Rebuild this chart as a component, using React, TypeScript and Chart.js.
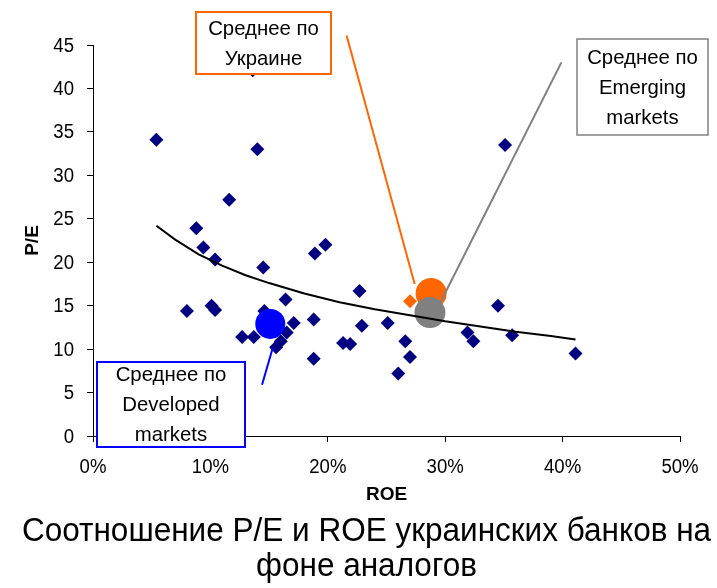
import React, { useEffect, useRef } from "react";
import { Chart, registerables } from "chart.js";

Chart.register(...registerables);

// ---- Data (ROE in %, P/E) ----
const peerRoe = [5.4, 13.6, 14.0, 11.6, 8.8, 9.4, 10.4, 14.5, 8.0, 10.1, 10.4, 14.6, 12.7, 13.7, 15.6, 16.0, 16.5, 17.1, 16.4, 18.9, 19.8, 18.8, 18.8, 22.7, 22.9, 21.3, 21.9, 25.1, 26.6, 27.0, 26.0, 31.9, 32.4, 34.5, 35.7, 41.1, 35.1];
const peerPe = [34.1, 42.1, 33.0, 27.2, 23.9, 21.7, 20.3, 19.4, 14.4, 15.0, 14.5, 14.4, 11.4, 11.4, 10.2, 10.9, 11.9, 13.0, 15.7, 21.0, 22.0, 13.4, 8.9, 16.7, 12.7, 10.7, 10.6, 13.0, 10.9, 9.1, 7.2, 11.9, 10.9, 15.0, 11.6, 9.5, 33.5];

const uaBankRoe = [27.0];
const uaBankPe = [15.5];

const avgNames = ["Среднее по Украине", "Среднее по Emerging markets", "Среднее по Developed markets"];
const avgRoe = [28.8, 28.7, 15.1];
const avgPe = [16.4, 14.2, 12.9];

const trendRoe = [5.4, 7, 9, 11, 13, 15, 18, 21, 24, 27, 30, 33, 36, 39, 41.1];
const trendPe = [24.2, 22.6, 20.9, 19.6, 18.5, 17.6, 16.4, 15.4, 14.6, 13.9, 13.2, 12.6, 12.0, 11.5, 11.1];

const xTickValues = [0, 10, 20, 30, 40, 50];
const yTickValues = [0, 5, 10, 15, 20, 25, 30, 35, 40, 45];

const titleLines = ["Соотношение P/E и ROE украинских банков на", "фоне аналогов"];
const xTitle = "ROE";
const yTitle = "P/E";

// ---- Callout annotations (data units) ----
const CALLOUTS = [
  { lines: ["Среднее по", "Украине"], color: "#FF6600", box: [8.77, 20.27, 48.8, 41.66], line: [21.6, 46.1, 27.4, 17.5], bw: 2 },
  { lines: ["Среднее по", "Emerging", "markets"], color: "#808080", box: [41.2, 52.4, 45.7, 34.6], line: [39.9, 43.0, 29.6, 15.4], bw: 1.5 },
  { lines: ["Среднее по", "Developed", "markets"], color: "#0000FF", box: [0.34, 12.95, 8.5, -1.27], line: [14.4, 5.9, 15.3, 10.1], bw: 2 },
];

const FAM = '"Liberation Sans", Arial, sans-serif';

function drawText(ctx: CanvasRenderingContext2D, text: string, x: number, y: number, font: string, sx: number, align: CanvasTextAlign) {
  ctx.save();
  ctx.font = font;
  ctx.fillStyle = "#000000";
  ctx.textBaseline = "middle";
  ctx.textAlign = align;
  ctx.translate(x, y);
  ctx.scale(sx, 1);
  ctx.fillText(text, 0, 0);
  ctx.restore();
}

const calloutPlugin = {
  id: "callouts",
  afterDatasetsDraw(chart: any) {
    const { ctx, scales } = chart;
    const x = scales.x;
    const y = scales.y;
    ctx.save();
    for (const c of CALLOUTS) {
      ctx.strokeStyle = c.color;
      ctx.lineWidth = 2;
      ctx.beginPath();
      ctx.moveTo(x.getPixelForValue(c.line[0]), y.getPixelForValue(c.line[1]));
      ctx.lineTo(x.getPixelForValue(c.line[2]), y.getPixelForValue(c.line[3]));
      ctx.stroke();
    }
    for (const c of CALLOUTS) {
      const l = Math.round(x.getPixelForValue(c.box[0]));
      const r = Math.round(x.getPixelForValue(c.box[1]));
      const t = Math.round(y.getPixelForValue(c.box[2]));
      const b = Math.round(y.getPixelForValue(c.box[3]));
      ctx.fillStyle = "#FFFFFF";
      ctx.fillRect(l, t, r - l, b - t);
      ctx.strokeStyle = c.color;
      ctx.lineWidth = c.bw;
      ctx.strokeRect(l, t, r - l, b - t);
      const cx = (l + r) / 2;
      const n = c.lines.length;
      const first = (t + b) / 2 - ((n - 1) * 30) / 2;
      c.lines.forEach((s, i) => drawText(ctx, s, cx, first + i * 30 + 1, `21px ${FAM}`, 0.97, "center"));
    }
    ctx.restore();
  },
  afterDraw(chart: any) {
    const { ctx, scales, chartArea, width } = chart;
    const x = scales.x;
    const y = scales.y;
    const tickFont = `20px ${FAM}`;
    for (const v of xTickValues) {
      drawText(ctx, `${v}%`, x.getPixelForValue(v), chartArea.bottom + 31, tickFont, 0.93, "center");
    }
    for (const v of yTickValues) {
      drawText(ctx, `${v}`, chartArea.left - 19, y.getPixelForValue(v) + 1, tickFont, 0.93, "right");
    }
    const titleFont = `33px ${FAM}`;
    titleLines.forEach((s, i) => drawText(ctx, s, width / 2 + 8, chartArea.bottom + 96 + i * 35, titleFont, 0.955, "center"));
  },
};

export default function App() {
  const ref = useRef<HTMLCanvasElement | null>(null);
  useEffect(() => {
    if (!ref.current) return;
    const chart = new Chart(ref.current, {
      type: "scatter",
      data: {
        datasets: [
          {
            type: "line",
            label: "trend",
            data: trendRoe.map((v, i) => ({ x: v, y: trendPe[i] })),
            borderColor: "#000000",
            borderWidth: 2,
            pointRadius: 0,
            fill: false,
            tension: 0,
          } as any,
          {
            label: avgNames[1],
            data: [{ x: avgRoe[1], y: avgPe[1] }],
            backgroundColor: "#808080",
            borderColor: "#808080",
            pointStyle: "circle",
            pointRadius: 15.5,
            borderWidth: 0,
          },
          {
            label: avgNames[0],
            data: [{ x: avgRoe[0], y: avgPe[0] }],
            backgroundColor: "#FF6600",
            borderColor: "#FF6600",
            pointStyle: "circle",
            pointRadius: 15.5,
            borderWidth: 0,
          },
          {
            label: avgNames[2],
            data: [{ x: avgRoe[2], y: avgPe[2] }],
            backgroundColor: "#0000FF",
            borderColor: "#0000FF",
            pointStyle: "circle",
            pointRadius: 15,
            borderWidth: 0,
          },
          {
            label: "UA banks",
            data: uaBankRoe.map((v, i) => ({ x: v, y: uaBankPe[i] })),
            backgroundColor: "#FF6600",
            borderColor: "#FF6600",
            pointStyle: "rectRot",
            pointRadius: 7,
            borderWidth: 0,
          },
          {
            label: "Peers",
            data: peerRoe.map((v, i) => ({ x: v, y: peerPe[i] })),
            backgroundColor: "#000080",
            borderColor: "#000080",
            pointStyle: "rectRot",
            pointRadius: 7,
            borderWidth: 0,
          },
        ],
      },
      options: {
        animation: false,
        responsive: false,
        events: [],
        layout: { padding: { left: 0, right: 37, top: 45, bottom: 80 } },
        plugins: {
          legend: { display: false },
          tooltip: { enabled: false },
          title: { display: false },
        },
        scales: {
          x: {
            type: "linear",
            min: 0,
            max: 50,
            afterFit: (s: any) => {
              s.height = 72;
            },
            afterBuildTicks: (s: any) => {
              s.ticks = xTickValues.map((v) => ({ value: v }));
            },
            ticks: {
              color: "rgba(0,0,0,0)",
              font: { family: FAM, size: 18 },
              padding: 10,
              maxRotation: 0,
              callback: (v: any) => `${v}%`,
            },
            grid: { display: true, drawOnChartArea: false, drawTicks: true, tickLength: 6, color: "#000000" },
            border: { display: true, color: "#000000", width: 1 },
            title: {
              display: true,
              text: xTitle,
              color: "#000000",
              font: { family: FAM, size: 19, weight: "bold" },
              padding: { top: 0, bottom: 2 },
            },
          },
          y: {
            type: "linear",
            min: 0,
            max: 45,
            afterFit: (s: any) => {
              s.width = 93;
            },
            afterBuildTicks: (s: any) => {
              s.ticks = yTickValues.map((v) => ({ value: v }));
            },
            ticks: {
              color: "rgba(0,0,0,0)",
              font: { family: FAM, size: 18 },
              padding: 12,
            },
            grid: { display: true, drawOnChartArea: false, drawTicks: true, tickLength: 6, color: "#000000" },
            border: { display: true, color: "#000000", width: 1 },
            title: {
              display: true,
              text: yTitle,
              color: "#000000",
              font: { family: FAM, size: 19, weight: "bold" },
              padding: { top: 21, bottom: 0 },
            },
          },
        },
      },
      plugins: [calloutPlugin],
    } as any);
    return () => chart.destroy();
  }, []);

  return (
    <div style={{ position: "fixed", left: 0, top: 0, width: 717, height: 588, background: "#fff" }}>
      <canvas ref={ref} width={717} height={588} style={{ display: "block", width: 717, height: 588 }} />
    </div>
  );
}
